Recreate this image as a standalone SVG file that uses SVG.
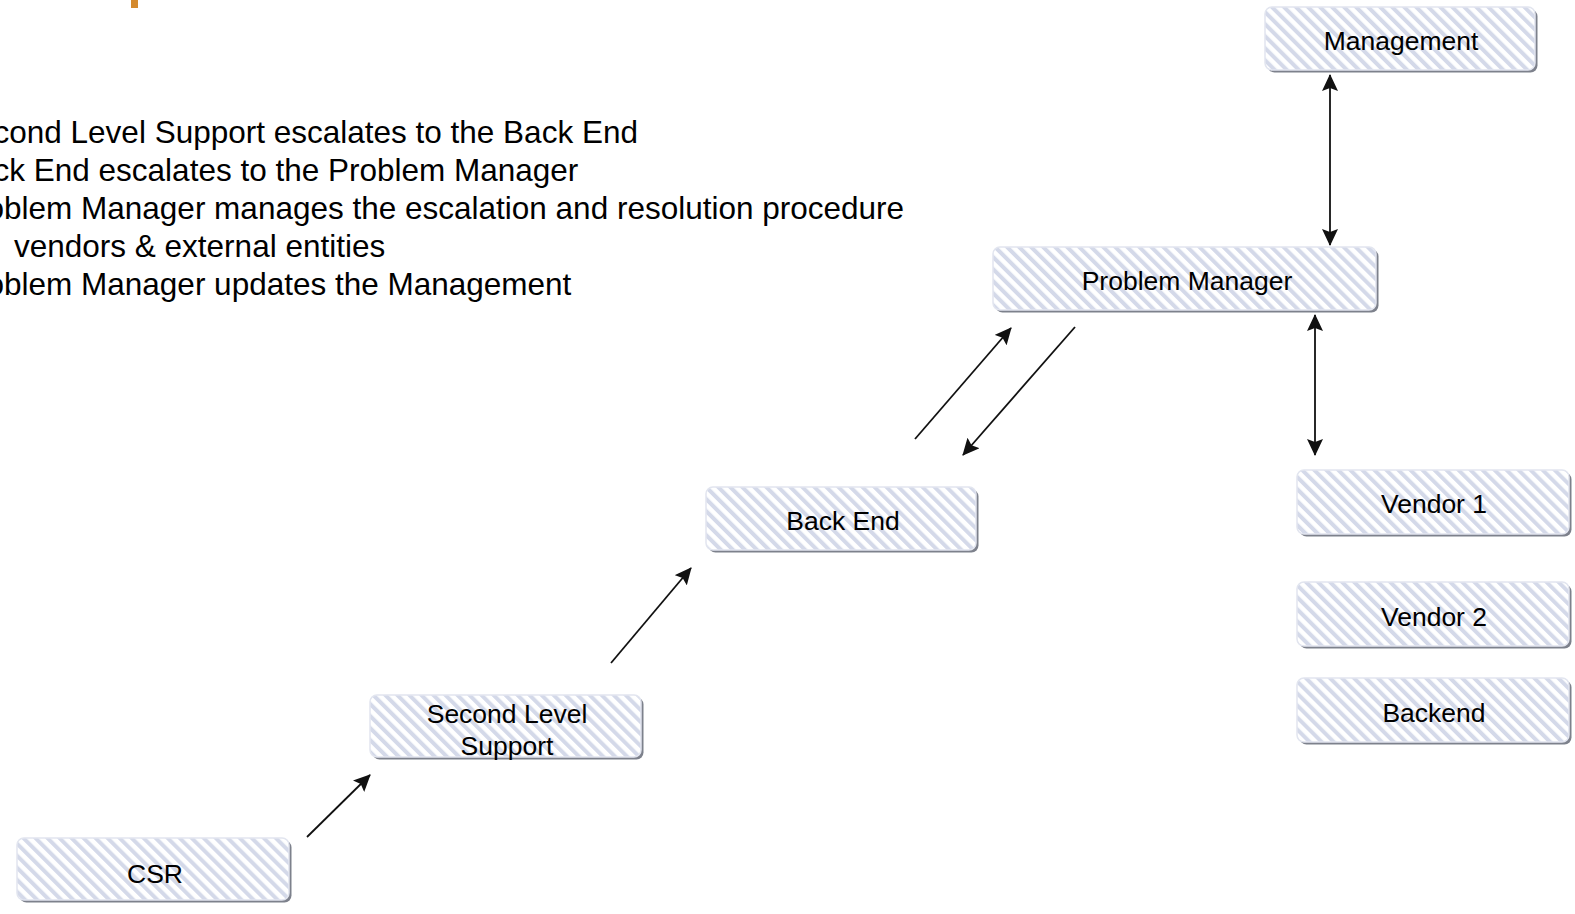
<svg xmlns="http://www.w3.org/2000/svg" width="1575" height="914" viewBox="0 0 1575 914">
<defs>
<pattern id="hatch" patternUnits="userSpaceOnUse" width="8.5" height="8.5" patternTransform="rotate(-45)">
<rect width="8.5" height="8.5" fill="#ffffff"/>
<rect width="4" height="8.5" fill="#d4d9e9"/>
</pattern>
<marker id="ah" markerUnits="userSpaceOnUse" markerWidth="20" markerHeight="16" refX="16" refY="8" orient="auto">
<path d="M0,0 L17,8 L0,16 L3,8 z" fill="#111"/>
</marker>
<marker id="ahs" markerUnits="userSpaceOnUse" markerWidth="20" markerHeight="16" refX="1" refY="8" orient="auto">
<path d="M17,0 L0,8 L17,16 L14,8 z" fill="#111"/>
</marker>
</defs>
<style>
.shadow{fill:#7d818c}
.box{fill:url(#hatch);stroke:#e2e5ef;stroke-width:1.5}
.lbl{font-family:"Liberation Sans",Arial,sans-serif;font-size:26.5px;fill:#000;text-anchor:middle}
.bul{font-family:"Liberation Sans",Arial,sans-serif;font-size:31.5px;fill:#000}
.conn{stroke:#111;stroke-width:1.8;fill:none}
</style>
<rect x="131" y="0" width="7" height="8" fill="#d48a2e"/>
<g id="bullets">
<text class="bul" x="-45" y="142.5">Second Level Support escalates to the Back End</text>
<text class="bul" x="-45" y="180.5">Back End escalates to the Problem Manager</text>
<text class="bul" x="-45" y="218.5">Problem Manager manages the escalation and resolution procedure</text>
<text class="bul" x="14" y="256.5">vendors &amp; external entities</text>
<text class="bul" x="-45" y="294.5">Problem Manager updates the Management</text>
</g>
<g id="connectors">
<line class="conn" x1="307" y1="837" x2="370" y2="775" marker-end="url(#ah)"/>
<line class="conn" x1="611" y1="663" x2="691" y2="568" marker-end="url(#ah)"/>
<line class="conn" x1="915" y1="439" x2="1011" y2="328" marker-end="url(#ah)"/>
<line class="conn" x1="1075" y1="327" x2="963" y2="455" marker-end="url(#ah)"/>
<line class="conn" x1="1330" y1="75" x2="1330" y2="245" marker-start="url(#ahs)" marker-end="url(#ah)"/>
<line class="conn" x1="1315" y1="315" x2="1315" y2="455" marker-start="url(#ahs)" marker-end="url(#ah)"/>
</g>
<g id="management">
<rect class="shadow" x="1267.5" y="9.5" width="270" height="63" rx="7"/>
<rect class="box" x="1265" y="7" width="270" height="63" rx="7"/>
<text class="lbl" x="1401" y="50">Management</text>
</g>
<g id="problem-manager">
<rect class="shadow" x="995.5" y="249.5" width="383" height="63" rx="7"/>
<rect class="box" x="993" y="247" width="383" height="63" rx="7"/>
<text class="lbl" x="1187" y="290">Problem Manager</text>
</g>
<g id="back-end">
<rect class="shadow" x="708.5" y="489.5" width="270" height="63" rx="7"/>
<rect class="box" x="706" y="487" width="270" height="63" rx="7"/>
<text class="lbl" x="843" y="530">Back End</text>
</g>
<g id="second-level-support">
<rect class="shadow" x="372.5" y="697.5" width="271" height="62" rx="7"/>
<rect class="box" x="370" y="695" width="271" height="62" rx="7"/>
<text class="lbl" x="507" y="722.5">Second Level</text>
<text class="lbl" x="507" y="754.5">Support</text>
</g>
<g id="csr">
<rect class="shadow" x="19.5" y="840.5" width="272" height="62" rx="7"/>
<rect class="box" x="17" y="838" width="272" height="62" rx="7"/>
<text class="lbl" x="155" y="883">CSR</text>
</g>
<g id="vendor-1">
<rect class="shadow" x="1299.5" y="472.5" width="272" height="64" rx="7"/>
<rect class="box" x="1297" y="470" width="272" height="64" rx="7"/>
<text class="lbl" x="1434" y="513">Vendor 1</text>
</g>
<g id="vendor-2">
<rect class="shadow" x="1299.5" y="584.5" width="272" height="64" rx="7"/>
<rect class="box" x="1297" y="582" width="272" height="64" rx="7"/>
<text class="lbl" x="1434" y="626">Vendor 2</text>
</g>
<g id="backend">
<rect class="shadow" x="1299.5" y="680.5" width="272" height="64" rx="7"/>
<rect class="box" x="1297" y="678" width="272" height="64" rx="7"/>
<text class="lbl" x="1434" y="721.5">Backend</text>
</g>
</svg>
